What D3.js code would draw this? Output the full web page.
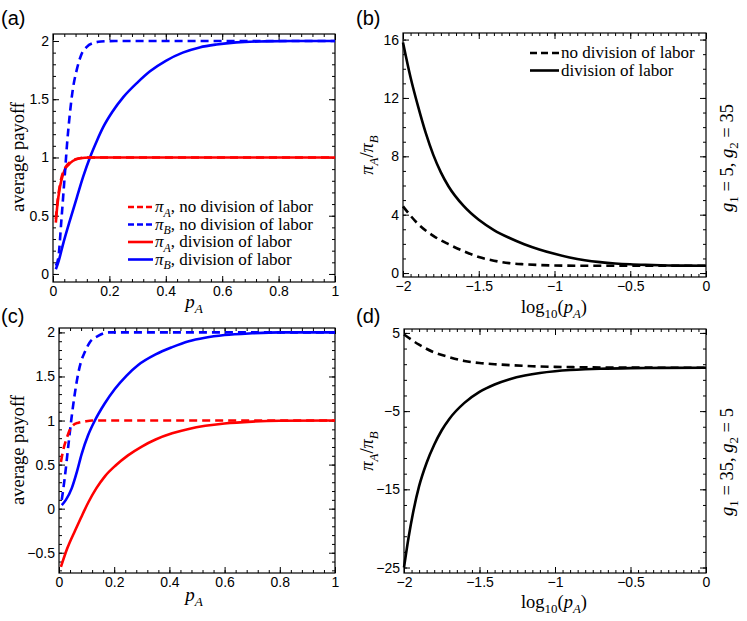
<!DOCTYPE html>
<html>
<head>
<meta charset="utf-8">
<script src="https://cdn.jsdelivr.net/npm/d3@7"></script>
<style>
  body { margin: 0; background: #fff; }
  text { white-space: pre; }
</style>
</head>
<body>
<div id="chart"></div>
<script>
// ---- data ----
// (a) g1 = 5, g2 = 35, average payoff vs p_A
const aRedDashX = [0.01, 0.015, 0.025, 0.035, 0.045, 0.06, 0.08, 0.1, 0.13, 1];
const aRedDashY = [0.47, 0.6, 0.77, 0.87, 0.92, 0.96, 0.985, 0.996, 1, 1];
const aBlueDashX = [0.01, 0.019, 0.03, 0.043, 0.05, 0.06, 0.07, 0.084, 0.1, 0.12, 0.14, 0.17, 0.22, 1];
const aBlueDashY = [0.07, 0.14, 0.47, 0.89, 1.12, 1.38, 1.58, 1.75, 1.88, 1.95, 1.98, 1.995, 2, 2];
const aRedX = [0.01, 0.015, 0.025, 0.035, 0.045, 0.054, 0.07, 0.096, 0.13, 1];
const aRedY = [0.44, 0.58, 0.75, 0.85, 0.91, 0.935, 0.97, 0.993, 1, 1];
const aBlueX = [0.01, 0.02, 0.035, 0.06, 0.085, 0.107, 0.131, 0.155, 0.178, 0.21, 0.25, 0.3, 0.344, 0.4, 0.46, 0.52, 0.58, 0.65, 0.75, 0.85, 1];
const aBlueY = [0.04, 0.11, 0.25, 0.46, 0.66, 0.835, 1.0, 1.14, 1.26, 1.39, 1.52, 1.645, 1.74, 1.83, 1.9, 1.945, 1.97, 1.988, 1.997, 2, 2];

// (b) g1 = 5, g2 = 35, ratio vs log10(p_A)
const bDashX = [-2, -1.9, -1.8, -1.7, -1.6, -1.5, -1.4, -1.3, -1.2, -1.1, -1.0, -0.8, -0.6, 0];
const bDashY = [4.57, 3.36, 2.55, 1.98, 1.5, 1.1, 0.85, 0.68, 0.6, 0.55, 0.52, 0.5, 0.5, 0.5];
const bSolidX = [-2, -1.95, -1.9, -1.85, -1.8, -1.75, -1.7, -1.6, -1.5, -1.4, -1.3, -1.2, -1.1, -1.0, -0.9, -0.8, -0.7, -0.6, -0.5, -0.4, -0.3, -0.15, 0];
const bSolidY = [15.8, 13.4, 11.4, 9.6, 8.1, 6.9, 5.95, 4.6, 3.65, 2.95, 2.42, 1.98, 1.62, 1.32, 1.07, 0.88, 0.75, 0.66, 0.6, 0.56, 0.53, 0.51, 0.5];

// (c) g1 = 35, g2 = 5
const cRedDashX = [0.007, 0.015, 0.028, 0.04, 0.052, 0.07, 0.094, 0.12, 1];
const cRedDashY = [0.53, 0.66, 0.8, 0.9, 0.95, 0.975, 0.99, 1, 1];
const cBlueDashX = [0.01, 0.02, 0.034, 0.045, 0.058, 0.07, 0.08, 0.094, 0.11, 0.142, 0.18, 1];
const cBlueDashY = [0.1, 0.33, 0.72, 1.02, 1.32, 1.54, 1.67, 1.78, 1.88, 1.96, 2, 2];
const cRedX = [0.007, 0.03, 0.058, 0.08, 0.106, 0.135, 0.167, 0.205, 0.25, 0.3, 0.35, 0.41, 0.47, 0.53, 0.6, 0.7, 0.8, 1];
const cRedY = [-0.66, -0.45, -0.25, -0.1, 0.07, 0.23, 0.37, 0.49, 0.605, 0.705, 0.785, 0.855, 0.905, 0.94, 0.967, 0.988, 0.997, 1];
const cBlueX = [0.01, 0.025, 0.046, 0.065, 0.082, 0.105, 0.13, 0.165, 0.203, 0.245, 0.287, 0.35, 0.408, 0.47, 0.529, 0.6, 0.7, 0.8, 1];
const cBlueY = [0.04, 0.1, 0.23, 0.42, 0.62, 0.83, 1.0, 1.19, 1.36, 1.51, 1.63, 1.75, 1.83, 1.9, 1.94, 1.97, 1.99, 2, 2];

// (d) g1 = 35, g2 = 5
const dDashX = [-2, -1.9, -1.8, -1.7, -1.6, -1.5, -1.4, -1.3, -1.15, -1.0, -0.8, -0.5, 0];
const dDashY = [4.79, 3.5, 2.5, 1.9, 1.42, 1.15, 1.0, 0.88, 0.74, 0.66, 0.6, 0.56, 0.55];
const dSolidX = [-2, -1.97, -1.94, -1.9, -1.85, -1.8, -1.75, -1.7, -1.6, -1.5, -1.4, -1.3, -1.2, -1.1, -1.0, -0.9, -0.8, -0.7, -0.5, -0.3, 0];
const dSolidY = [-25, -21.2, -18.0, -14.6, -11.6, -9.3, -7.45, -6.0, -3.95, -2.55, -1.6, -0.92, -0.45, -0.12, 0.1, 0.25, 0.35, 0.42, 0.5, 0.53, 0.55];

// ticks
const pTicks = [0, 0.2, 0.4, 0.6, 0.8, 1];
const logTicks = [-2, -1.5, -1, -0.5, 0];
const aYTicks = [0, 0.5, 1, 1.5, 2];
const bYTicks = [0, 4, 8, 12, 16];
const cYTicks = [-0.5, 0, 0.5, 1, 1.5, 2];
const dYTicks = [-25, -15, -5, 5];

const legendA = ["no division of labor", "no division of labor", "division of labor", "division of labor"];
const legendB = ["no division of labor", "division of labor"];

const RED = "#ff0000", BLUE = "#0000ff";
const DASH = "8,5";
const SANS = "Liberation Sans, Arial, sans-serif";
const SERIF = "Liberation Serif, Times New Roman, serif";

const svg = d3.select("#chart").append("svg")
    .attr("width", 747)
    .attr("height", 621);

function zip(xs, ys) {
    return xs.map(function (v, i) { return [v, ys[i]]; });
}

function fmt(v) {
    return String(v).replace("-", "\u2212");
}

// text with italic parts and subscripts: parts = [[str, flags]], flags "i" italic, "s" subscript
function mathText(t, parts, size) {
    let shift = 0;
    parts.forEach(function (p) {
        let sub = p[1].indexOf("s") >= 0;
        let target = sub ? size * 0.28 : 0;
        t.append("tspan")
            .attr("dy", target - shift)
            .attr("font-size", sub ? size * 0.7 : size)
            .attr("font-style", p[1].indexOf("i") >= 0 ? "italic" : "normal")
            .text(p[0]);
        shift = target;
    });
    return t;
}

function Panel(box, xDomain, yDomain, xTicks, yTicks, xMinor, yMinor) {
    this.box = box;
    this.x = d3.scaleLinear().domain(xDomain).range([box.left, box.right]);
    this.y = d3.scaleLinear().domain(yDomain).range([box.bottom, box.top]);
    this.xTicks = xTicks;
    this.yTicks = yTicks;
    this.xMinor = xMinor;
    this.yMinor = yMinor;
}

function drawFrame(p) {
    let g = svg.append("g");
    let b = p.box;
    let axes = [
        [d3.axisBottom(p.x), b.bottom, p.xTicks, p.xMinor, true, "x"],
        [d3.axisTop(p.x), b.top, p.xTicks, p.xMinor, false, "x"],
        [d3.axisLeft(p.y), b.left, p.yTicks, p.yMinor, true, "y"],
        [d3.axisRight(p.y), b.right, p.yTicks, p.yMinor, false, "y"]
    ];
    axes.forEach(function (a) {
        let tr = a[5] == "x" ? "translate(0," + a[1] + ")" : "translate(" + a[1] + ",0)";
        // minor ticks
        g.append("g")
            .attr("transform", tr)
            .call(a[0].tickValues(a[3]).tickSize(-3).tickFormat(""))
            .call(function (s) { s.select(".domain").remove(); });
        // major ticks
        g.append("g")
            .attr("transform", tr)
            .call(a[0].tickValues(a[2]).tickSize(-6).tickPadding(4)
                .tickFormat(a[4] ? fmt : ""))
            .call(function (s) {
                s.select(".domain").remove();
                s.selectAll("text")
                    .attr("font-family", SANS)
                    .attr("font-size", "14px")
                    .attr("fill", "#000");
            });
    });
    g.selectAll(".tick line").attr("stroke", "#000").attr("stroke-width", 1);
    g.append("rect")
        .attr("x", b.left)
        .attr("y", b.top)
        .attr("width", b.right - b.left)
        .attr("height", b.bottom - b.top)
        .style("fill", "none")
        .style("stroke", "#000")
        .style("stroke-width", 1.2);
}

function drawCurve(p, xs, ys, color, dashed) {
    let line = d3.line()
        .x(function (d) { return p.x(d[0]); })
        .y(function (d) { return p.y(d[1]); })
        .curve(d3.curveMonotoneX);
    svg.append("path")
        .datum(zip(xs, ys))
        .attr("d", line)
        .style("fill", "none")
        .style("stroke", color)
        .style("stroke-width", 2.6)
        .style("stroke-dasharray", dashed ? DASH : null);
}

function label(x, y, parts, size, rotate, anchor) {
    let t = svg.append("text")
        .attr("transform", "translate(" + x + "," + y + ")" + (rotate ? " rotate(-90)" : ""))
        .style("font-family", SERIF)
        .attr("text-anchor", anchor || "middle");
    return mathText(t, parts, size);
}

function panelTag(x, y, s) {
    svg.append("text")
        .attr("x", x)
        .attr("y", y)
        .style("font-family", SANS)
        .attr("font-size", "20px")
        .text(s);
}

function minors(lo, hi, step) {
    return d3.range(Math.round((hi - lo) / step) + 1).map(function (i) { return +(lo + i * step).toFixed(4); });
}

// ---- panels ----
let pa = new Panel({ left: 53, right: 335, top: 34, bottom: 282 }, [0, 1], [-0.069, 2.06],
    pTicks, aYTicks, minors(0, 1, 0.04), minors(0, 2, 0.1));
let pb = new Panel({ left: 403, right: 706, top: 33, bottom: 277 }, [-2, 0], [-0.27, 16.45],
    logTicks, bYTicks, minors(-2, 0, 0.05), minors(0, 16, 1));
let pc = new Panel({ left: 59, right: 335, top: 328, bottom: 573 }, [0, 1], [-0.73, 2.05],
    pTicks, cYTicks, minors(0, 1, 0.04), minors(-0.7, 2, 0.1));
let pd = new Panel({ left: 404, right: 706, top: 329, bottom: 573 }, [-2, 0], [-25.7, 5.5],
    logTicks, dYTicks, minors(-2, 0, 0.05), minors(-25, 5, 2));

[pa, pb, pc, pd].forEach(drawFrame);

drawCurve(pa, aBlueX, aBlueY, BLUE, false);
drawCurve(pa, aRedX, aRedY, RED, false);
drawCurve(pa, aBlueDashX, aBlueDashY, BLUE, true);
drawCurve(pa, aRedDashX, aRedDashY, RED, true);

drawCurve(pb, bSolidX, bSolidY, "#000", false);
drawCurve(pb, bDashX, bDashY, "#000", true);

drawCurve(pc, cRedX, cRedY, RED, false);
drawCurve(pc, cBlueX, cBlueY, BLUE, false);
drawCurve(pc, cBlueDashX, cBlueDashY, BLUE, true);
drawCurve(pc, cRedDashX, cRedDashY, RED, true);

drawCurve(pd, dSolidX, dSolidY, "#000", false);
drawCurve(pd, dDashX, dDashY, "#000", true);

// ---- legends ----
let legA = svg.append("g");
let legAColors = [RED, BLUE, RED, BLUE];
let legASub = ["A", "B", "A", "B"];
legendA.forEach(function (s, i) {
    let yy = 207 + i * 17.5;
    legA.append("line")
        .attr("x1", 128).attr("x2", 153)
        .attr("y1", yy).attr("y2", yy)
        .style("stroke", legAColors[i])
        .style("stroke-width", 2.6)
        .style("stroke-dasharray", i < 2 ? "6,3" : null);
    let t = legA.append("text")
        .attr("x", 155).attr("y", yy + 5)
        .style("font-family", SERIF);
    mathText(t, [["\u03c0", "i"], [legASub[i], "si"], [", " + s, ""]], 17);
});

let legB = svg.append("g");
legendB.forEach(function (s, i) {
    let yy = 53 + i * 17.5;
    legB.append("line")
        .attr("x1", 530).attr("x2", 559)
        .attr("y1", yy).attr("y2", yy)
        .style("stroke", "#000")
        .style("stroke-width", 2.6)
        .style("stroke-dasharray", i == 0 ? "7,4" : null);
    legB.append("text")
        .attr("x", 561).attr("y", yy + 5)
        .style("font-family", SERIF)
        .attr("font-size", "17px")
        .text(s);
});

// ---- axis titles ----
const pLabel = [["p", "i"], ["A", "si"]];
const logLabel = [["log", ""], ["10", "s"], ["(", ""], ["p", "i"], ["A", "si"], [")", ""]];
const ratioLabel = [["\u03c0", "i"], ["A", "si"], ["/", ""], ["\u03c0", "i"], ["B", "si"]];

label(24, 157, [["average payoff", ""]], 18.5, true);
label(24, 450, [["average payoff", ""]], 18.5, true);
label(194, 308, pLabel, 19, false);
label(194, 601, pLabel, 19, false);
label(554, 313, logLabel, 18.5, false);
label(554, 608, logLabel, 18.5, false);
label(373, 155, ratioLabel, 18.5, true);
label(373, 451, ratioLabel, 18.5, true);
label(733, 158, [["g", "i"], ["1", "s"], [" = 5, ", ""], ["g", "i"], ["2", "s"], [" = 35", ""]], 18.5, true);
label(733, 462, [["g", "i"], ["1", "s"], [" = 35, ", ""], ["g", "i"], ["2", "s"], [" = 5", ""]], 18.5, true);

panelTag(1, 25, "(a)");
panelTag(356, 25, "(b)");
panelTag(1, 323, "(c)");
panelTag(356, 323, "(d)");
</script>
</body>
</html>
